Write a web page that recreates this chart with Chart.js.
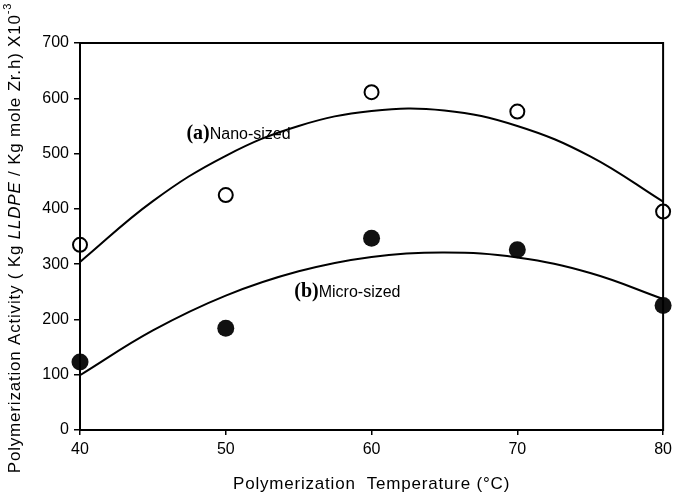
<!DOCTYPE html>
<html>
<head>
<meta charset="utf-8">
<script src="https://cdn.jsdelivr.net/npm/chart.js@4"></script>
<style>
  html, body { margin: 0; padding: 0; background: #fff; }
  #wrap { width: 677px; height: 493px; }
</style>
</head>
<body>
<div id="wrap"><canvas id="chart" width="677" height="493"></canvas></div>
<script>
// Measured points
const temps = [40, 50, 60, 70, 80];
const nanoActivity = [335, 425, 611, 576, 395];
const microActivity = [123, 184, 347, 326, 225];

// Fitted trend curves
const curveTemps = [40, 45, 50, 55, 60, 65, 70, 75, 80];
const nanoCurve = [304, 414, 496, 550, 577, 578, 550, 495, 413];
const microCurve = [99, 180, 243, 287, 313, 321, 312, 284, 237];

const xTicks = [40, 50, 60, 70, 80];
const yTicks = [0, 100, 200, 300, 400, 500, 600, 700];

const FONT = "'Liberation Sans', Arial, sans-serif";

function pts(xs, ys) {
  return xs.map((x, i) => ({ x: x, y: ys[i] }));
}

// Frame, curve labels and axis titles
const decorations = {
  id: "decorations",
  afterDraw(chart) {
    const ctx = chart.ctx;
    const a = chart.chartArea;
    const xs = chart.scales.x;
    const ys = chart.scales.y;
    ctx.save();
    ctx.strokeStyle = "#000";
    ctx.lineWidth = 2;
    ctx.strokeRect(a.left, a.top, a.right - a.left, a.bottom - a.top);

    // curve labels
    function label(tag, text, x, y) {
      const px = xs.getPixelForValue(x);
      const py = ys.getPixelForValue(y);
      ctx.textBaseline = "alphabetic";
      ctx.textAlign = "left";
      ctx.fillStyle = "#000";
      ctx.font = "bold 20px 'Liberation Serif', 'Times New Roman', serif";
      ctx.fillText(tag, px, py);
      const w = ctx.measureText(tag).width;
      ctx.font = "16px " + FONT;
      ctx.fillText(text, px + w, py);
    }
    label("(a)", "Nano-sized", 47.3, 526);
    label("(b)", "Micro-sized", 54.7, 241);

    // x title
    ctx.letterSpacing = "0.8px";
    ctx.font = "17px " + FONT;
    ctx.textAlign = "center";
    ctx.textBaseline = "middle";
    ctx.fillText("Polymerization  Temperature (\u00B0C)", (a.left + a.right) / 2, 484);

    // y title, rotated, with italic part and superscript
    ctx.translate(15, 238);
    ctx.rotate(-Math.PI / 2);
    const parts = [
      { t: "Polymerization Activity ( Kg ", f: "17px " + FONT, dy: 0 },
      { t: "LLDPE", f: "italic 17px " + FONT, dy: 0 },
      { t: " / Kg mole Zr.h) X10", f: "17px " + FONT, dy: 0 },
      { t: "-3", f: "11px " + FONT, dy: -7 }
    ];
    let total = 0;
    parts.forEach((p) => { ctx.font = p.f; total += ctx.measureText(p.t).width; });
    let cx = -total / 2;
    ctx.textAlign = "left";
    parts.forEach((p) => {
      ctx.font = p.f;
      ctx.fillText(p.t, cx, p.dy);
      cx += ctx.measureText(p.t).width;
    });
    ctx.restore();
  }
};

new Chart(document.getElementById("chart"), {
  type: "scatter",
  data: {
    datasets: [
      {
        label: "Nano-sized fit",
        type: "line",
        data: pts(curveTemps, nanoCurve),
        borderColor: "#000",
        borderWidth: 2,
        pointRadius: 0,
        tension: 0.4,
        fill: false
      },
      {
        label: "Micro-sized fit",
        type: "line",
        data: pts(curveTemps, microCurve),
        borderColor: "#000",
        borderWidth: 2,
        pointRadius: 0,
        tension: 0.4,
        fill: false
      },
      {
        label: "Nano-sized",
        data: pts(temps, nanoActivity),
        pointRadius: 7,
        pointBackgroundColor: "#fff",
        pointBorderColor: "#000",
        pointBorderWidth: 2
      },
      {
        label: "Micro-sized",
        data: pts(temps, microActivity),
        pointRadius: 8.5,
        pointBackgroundColor: "#111",
        pointBorderColor: "#111",
        pointBorderWidth: 0
      }
    ]
  },
  options: {
    responsive: false,
    animation: false,
    clip: false,
    layout: { padding: { left: 0, right: 8, top: 43, bottom: 0 } },
    plugins: {
      legend: { display: false },
      tooltip: { enabled: false }
    },
    scales: {
      x: {
        type: "linear",
        min: 40,
        max: 80,
        afterBuildTicks: (s) => { s.ticks = xTicks.map((v) => ({ value: v })); },
        afterFit: (s) => { s.height = 63; },
        grid: { drawOnChartArea: false, drawTicks: true, tickLength: 5, color: "#000", lineWidth: 1.5 },
        border: { display: true, color: "#000", width: 2 },
        ticks: { color: "#000", font: { family: FONT, size: 16 }, padding: 5 }
      },
      y: {
        min: 0,
        max: 700,
        afterBuildTicks: (s) => { s.ticks = yTicks.map((v) => ({ value: v })); },
        afterFit: (s) => { s.width = 80; },
        grid: { drawOnChartArea: false, drawTicks: true, tickLength: 6, color: "#000", lineWidth: 1.5 },
        border: { display: true, color: "#000", width: 2 },
        ticks: { color: "#000", font: { family: FONT, size: 16 }, padding: 5 }
      }
    }
  },
  plugins: [decorations]
});
</script>
</body>
</html>
